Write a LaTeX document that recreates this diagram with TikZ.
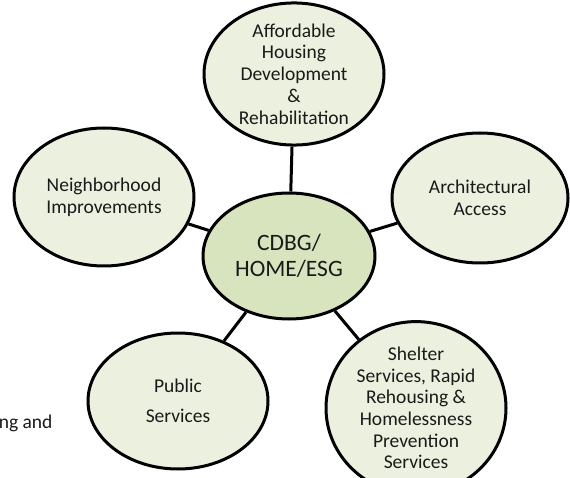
\documentclass[tikz,border=0pt]{standalone}
\usepackage{fontspec}
\setmainfont{Carlito}
\usepackage{xcolor}
\usetikzlibrary{shapes.geometric}
\definecolor{leaf}{HTML}{EBF1DE}
\definecolor{moss}{HTML}{D7E4BD}
\definecolor{ink}{HTML}{1A1A1A}

\begin{document}
\begin{tikzpicture}[
    x=1pt, y=-1pt,
    bubble/.style={ellipse, draw=black, line width=3pt, fill=leaf,
                   minimum width=180pt, minimum height=136pt, inner sep=0pt,
                   align=center, text=ink, font=\fontsize{19.5}{21.7}\selectfont},
    hub/.style={bubble, fill=moss, minimum width=172pt, minimum height=126pt,
                font=\fontsize{23.5}{25.5}\selectfont},
    link/.style={line width=3pt}
]
\useasboundingbox (0,0) rectangle (570,478);

% Nodes
\node[hub] (hub) at (289,256) {CDBG/\\HOME/ESG};
\node[bubble, minimum height=138pt] (afford) at (294,74)
    {Affordable\\Housing\\Development\\\&\\Rehabilitation};
\node[bubble, minimum width=176pt, minimum height=130pt] (arch) at (480,198)
    {Architectural\\Access};
\node[bubble, minimum height=138pt] (nbhd) at (104,197)
    {Neighborhood\\Improvements};
\node[bubble] (public) at (178,401) {Public\\[8pt]Services};
\node[bubble] (shelter) at (416,408)
    {Shelter\\Services, Rapid\\Rehousing \&\\Homelessness\\Prevention\\Services};
\node[anchor=east, text=ink, font=\fontsize{19.5}{21.7}\selectfont] (cut) at (56,423) {ng and};

% Links
\draw[link] (hub) -- (afford);
\draw[link] (hub) -- (arch);
\draw[link] (hub) -- (nbhd);
\draw[link] (hub) -- (public);
\draw[link] (hub) -- (shelter);
\end{tikzpicture}
\end{document}
